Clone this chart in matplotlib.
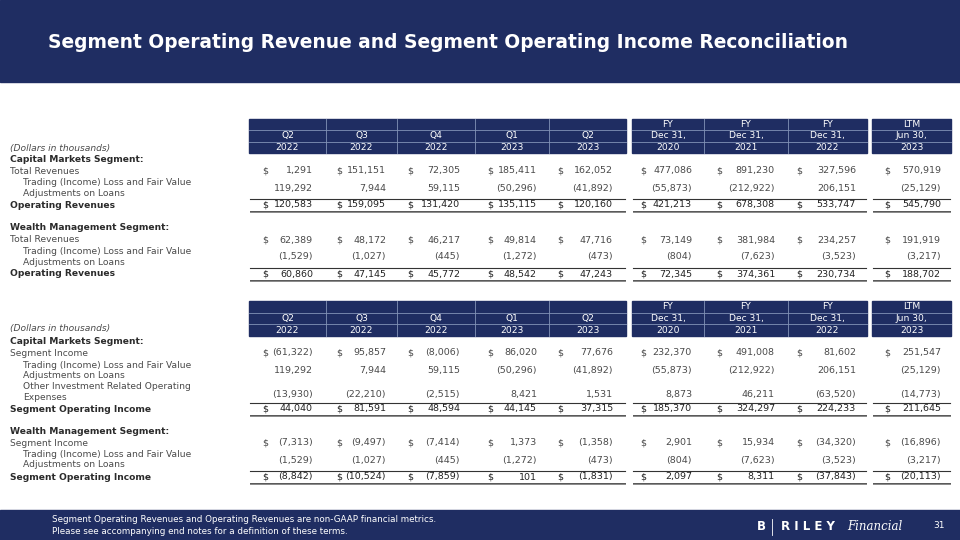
import matplotlib
matplotlib.use("Agg")
import matplotlib.pyplot as plt
from matplotlib.patches import Rectangle

# ---------------- data ----------------
hdr_top = ["", "", "", "", "", "FY", "FY", "FY", "LTM"]
hdr_mid = ["Q2", "Q3", "Q4", "Q1", "Q2", "Dec 31,", "Dec 31,", "Dec 31,", "Jun 30,"]
hdr_bot = ["2022", "2022", "2022", "2023", "2023", "2020", "2021", "2022", "2023"]

# Segment Operating Revenue (top table)
cm_total_rev = [1291, 151151, 72305, 185411, 162052, 477086, 891230, 327596, 570919]
cm_trading = [119292, 7944, 59115, -50296, -41892, -55873, -212922, 206151, -25129]
cm_oper_rev = [120583, 159095, 131420, 135115, 120160, 421213, 678308, 533747, 545790]
wm_total_rev = [62389, 48172, 46217, 49814, 47716, 73149, 381984, 234257, 191919]
wm_trading = [-1529, -1027, -445, -1272, -473, -804, -7623, -3523, -3217]
wm_oper_rev = [60860, 47145, 45772, 48542, 47243, 72345, 374361, 230734, 188702]

# Segment Operating Income (bottom table)
cm_seg_income = [-61322, 95857, -8006, 86020, 77676, 232370, 491008, 81602, 251547]
cm_other_inv = [-13930, -22210, -2515, 8421, 1531, 8873, 46211, -63520, -14773]
cm_seg_op_income = [44040, 81591, 48594, 44145, 37315, 185370, 324297, 224233, 211645]
wm_seg_income = [-7313, -9497, -7414, 1373, -1358, 2901, 15934, -34320, -16896]
wm_seg_op_income = [-8842, -10524, -7859, 101, -1831, 2097, 8311, -37843, -20113]

title = "Segment Operating Revenue and Segment Operating Income Reconciliation"
footnote = ["Segment Operating Revenues and Operating Revenues are non-GAAP financial metrics.",
            "Please see accompanying end notes for a definition of these terms."]
page_no = "31"

# ---------------- layout ----------------
NAVY = "#1F2D62"
GRID = "#8393B8"
LABEL_DARK = "#2B2B2B"
LABEL = "#4A4A4A"
NUM = "#4A4A4A"
FONT = "DejaVu Sans"

col_left = [249, 326, 397, 475, 549, 632, 704, 788, 872]
col_right = [326, 397, 475, 549, 626, 704, 788, 867, 951]
dollar_x = [262, 336, 407, 487, 557, 640, 716, 796, 884]
value_r = [313, 386, 460, 537, 613, 692, 775, 856, 941]
blocks = [(0, 4), (5, 7), (8, 8)]

fs_lab = 6.6
fs_num = 6.8
fs_hdr = 6.6

fig = plt.figure(figsize=(9.6, 5.4), dpi=100)
ax = fig.add_axes([0, 0, 1, 1])
ax.set_xlim(0, 960)
ax.set_ylim(540, 0)
ax.axis("off")

# title bar
ax.add_patch(Rectangle((0, 0), 960, 82, color=NAVY, zorder=1))
ax.text(48, 43, title, color="white", fontsize=13.4, fontweight="bold",
        family=FONT, va="center", ha="left", zorder=2)

# footer bar
ax.add_patch(Rectangle((0, 510), 960, 30, color=NAVY, zorder=1))
ax.text(52, 520, footnote[0], color="white", fontsize=6.3, family=FONT, va="center")
ax.text(52, 531, footnote[1], color="white", fontsize=6.3, family=FONT, va="center")
ax.text(757, 527, "B", color="white", fontsize=8.5, fontweight="bold", family=FONT, va="center")
ax.plot([772, 772], [519, 535], color="white", lw=0.6)
ax.text(781, 527, "R I L E Y", color="white", fontsize=8.5, fontweight="bold", family=FONT, va="center")
ax.text(847, 527, "Financial", color="white", fontsize=8.5, style="italic",
        family="DejaVu Serif", va="center")
ax.text(933, 526, page_no, color="white", fontsize=6.5, family=FONT, va="center")


def fmt(v):
    return f"({abs(v):,})" if v < 0 else f"{v:,}"


def header(y0, rh):
    for a, b in blocks:
        x0, x1 = col_left[a], col_right[b]
        ax.add_patch(Rectangle((x0, y0), x1 - x0, 3 * rh, color=NAVY, zorder=1))
        for k in (1, 2):
            ax.plot([x0, x1], [y0 + k * rh] * 2, color=GRID, lw=0.6, zorder=2)
        for c in range(a, b):
            ax.plot([col_right[c]] * 2, [y0, y0 + 3 * rh], color=GRID, lw=0.6, zorder=2)
    for c in range(9):
        xm = (col_left[c] + col_right[c]) / 2
        for k, row in enumerate((hdr_top, hdr_mid, hdr_bot)):
            if row[c]:
                ax.text(xm, y0 + (k + 0.5) * rh, row[c], color="white", fontsize=fs_hdr,
                        family=FONT, ha="center", va="center", zorder=3)


def label(y, lines, indent=False, bold=False, italic=False, gap=10.5):
    x = 23 if indent else 10
    n = len(lines)
    for i, t in enumerate(lines):
        yy = y + (i - (n - 1) / 2) * gap
        ax.text(x, yy, t, fontsize=fs_lab, family=FONT, va="center", ha="left",
                color=LABEL_DARK if bold else LABEL,
                fontweight="bold" if bold else "normal",
                style="italic" if italic else "normal")


def values(y, vals, dollar=False, total=False):
    col = "#222222" if total else NUM
    for c, v in enumerate(vals):
        ax.text(value_r[c], y, fmt(v), fontsize=fs_num, family=FONT, ha="right",
                va="center", color=col)
        if dollar:
            ax.text(dollar_x[c], y, "$", fontsize=fs_num, family=FONT, ha="left",
                    va="center", color=col)
    if total:
        for a, b in blocks:
            x0, x1 = col_left[a] + 1, col_right[b] - 1
            ax.plot([x0, x1], [y - 6.5] * 2, color="#333333", lw=0.8)
            ax.plot([x0, x1], [y + 5.5] * 2, color="#555555", lw=0.7)
            ax.plot([x0, x1], [y + 7.3] * 2, color="#888888", lw=0.7)


# ---------------- top table ----------------
header(119, 11.3)
label(148, ["(Dollars in thousands)"], italic=True)
label(159.5, ["Capital Markets Segment:"], bold=True)
label(171, ["Total Revenues"])
values(171, cm_total_rev, dollar=True)
label(188, ["Trading (Income) Loss and Fair Value", "Adjustments on Loans"], indent=True)
values(188, cm_trading)
label(205, ["Operating Revenues"], bold=True)
values(205, cm_oper_rev, dollar=True, total=True)
label(227, ["Wealth Management Segment:"], bold=True)
label(240, ["Total Revenues"])
values(240, wm_total_rev, dollar=True)
label(257, ["Trading (Income) Loss and Fair Value", "Adjustments on Loans"], indent=True)
values(257, wm_trading)
label(274, ["Operating Revenues"], bold=True)
values(274, wm_oper_rev, dollar=True, total=True)

# ---------------- bottom table ----------------
header(301, 11.7)
label(329, ["(Dollars in thousands)"], italic=True)
label(341, ["Capital Markets Segment:"], bold=True)
label(353, ["Segment Income"])
values(353, cm_seg_income, dollar=True)
label(370.5, ["Trading (Income) Loss and Fair Value", "Adjustments on Loans"], indent=True)
values(371, cm_trading)
label(392, ["Other Investment Related Operating", "Expenses"], indent=True)
values(394, cm_other_inv)
label(409, ["Segment Operating Income"], bold=True)
values(409, cm_seg_op_income, dollar=True, total=True)
label(431, ["Wealth Management Segment:"], bold=True)
label(443, ["Segment Income"])
values(443, wm_seg_income, dollar=True)
label(459.5, ["Trading (Income) Loss and Fair Value", "Adjustments on Loans"], indent=True)
values(461, wm_trading)
label(477, ["Segment Operating Income"], bold=True)
values(477, wm_seg_op_income, dollar=True, total=True)

fig.savefig("out.png", dpi=100)
